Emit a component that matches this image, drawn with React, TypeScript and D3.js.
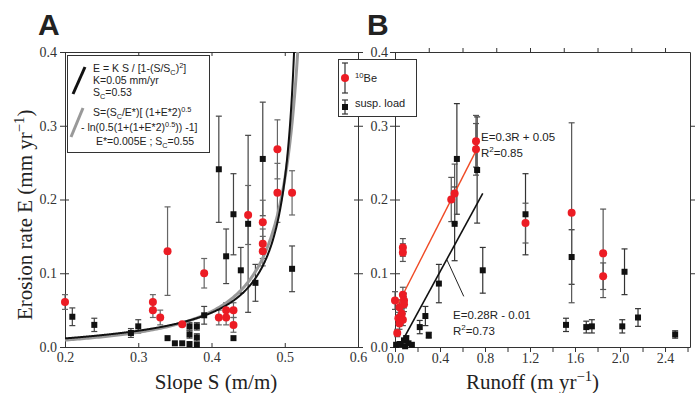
import * as d3 from "d3";
import React, { useEffect, useRef } from "react";

// panel A: 10Be (red) and suspended load (black) vs hillslope gradient
const slopeBe = [0.2, 0.32, 0.32, 0.33, 0.34, 0.36, 0.39, 0.41, 0.42, 0.42, 0.43, 0.43, 0.45, 0.47, 0.47, 0.47, 0.49, 0.49, 0.51];
const erosionBeA = [0.061, 0.061, 0.05, 0.04, 0.13, 0.031, 0.1, 0.04, 0.04, 0.05, 0.05, 0.03, 0.179, 0.169, 0.14, 0.13, 0.268, 0.209, 0.209];
const errBeA = [0.01, 0.01, 0.01, 0.01, 0.06, 0, 0.02, 0.01, 0.01, 0.01, 0.01, 0.01, 0.04, 0.03, 0.02, 0.02, 0.04, 0.04, 0.03];

const slopeSusp = [0.21, 0.24, 0.29, 0.3, 0.34, 0.35, 0.36, 0.37, 0.37, 0.37, 0.38, 0.38, 0.38, 0.39, 0.41, 0.42, 0.43, 0.43, 0.44, 0.45, 0.46, 0.47, 0.51];
const erosionSuspA = [0.041, 0.03, 0.019, 0.028, 0.012, 0.005, 0.005, 0.028, 0.017, 0.004, 0.028, 0.013, 0.003, 0.043, 0.241, 0.123, 0.18, 0.012, 0.104, 0.167, 0.087, 0.255, 0.106];
const errSuspA = [0.012, 0.009, 0.006, 0.009, 0, 0, 0, 0.005, 0.005, 0, 0.005, 0.005, 0, 0.012, 0.072, 0.037, 0.055, 0, 0.031, 0.12, 0.025, 0.077, 0.031];

// panel B: same rates vs runoff
const runoffBe = [0.0, 0.07, 0.07, 0.07, 0.08, 0.08, 0.04, 0.05, 0.03, 0.04, 0.06, 0.07, 0.02, 0.5, 0.53, 0.72, 0.72, 1.16, 1.57, 1.85, 1.85];
const erosionBeB = [0.063, 0.135, 0.128, 0.071, 0.063, 0.058, 0.054, 0.041, 0.039, 0.032, 0.045, 0.037, 0.019, 0.2, 0.208, 0.279, 0.268, 0.168, 0.182, 0.127, 0.096];
const errBeB = [0.012, 0.012, 0.012, 0.01, 0.01, 0.01, 0.01, 0.01, 0.008, 0.008, 0.008, 0.008, 0.005, 0.03, 0.04, 0.035, 0.035, 0.027, 0.122, 0.06, 0.018];

const runoffSusp = [0.01, 0.04, 0.05, 0.08, 0.1, 0.09, 0.12, 0.15, 0.22, 0.27, 0.3, 0.39, 0.53, 0.55, 0.73, 0.78, 1.16, 1.57, 1.52, 1.7, 1.75, 2.02, 2.04, 2.16, 2.49];
const erosionSuspB = [0.003, 0.004, 0.004, 0.009, 0.012, 0.001, 0.005, 0.003, 0.027, 0.042, 0.016, 0.086, 0.167, 0.255, 0.24, 0.104, 0.18, 0.122, 0.03, 0.027, 0.028, 0.028, 0.102, 0.04, 0.017];
const errSuspB = [0, 0, 0, 0, 0.003, 0, 0, 0, 0.009, 0.013, 0.004, 0.026, 0.05, 0.075, 0.072, 0.031, 0.055, 0.037, 0.009, 0.008, 0.009, 0.009, 0.031, 0.012, 0.005];

// ticks
const slopeTicks = [0.2, 0.3, 0.4, 0.5, 0.6];
const rateTicks = [0.0, 0.1, 0.2, 0.3, 0.4];
const runoffTicks = [0, 0.2, 0.4, 0.6, 0.8, 1.0, 1.2, 1.4, 1.6, 1.8, 2.0, 2.2, 2.4, 2.6];
const runoffTopTicks = [0.3, 0.6, 0.9, 1.2, 1.5, 1.8, 2.1, 2.4];

// model parameters
const K = 0.05;
const Sc1 = 0.53;
const Sc2 = 0.55;
const Estar = 200; // E* per mm/yr
// regressions
const beFit = { slope: 0.3, icpt: 0.05, from: 0.03, to: 0.73 };
const suspFit = { slope: 0.28, icpt: -0.01, from: 0.05, to: 0.78 };

const RED = "#ec1c24";
const SERIF = "'Liberation Serif', 'Times New Roman', serif";
const SANS = "'Liberation Sans', Arial, sans-serif";

type Part = [string, number];

function rich(sel: any, x: number, y: number, parts: Part[], size: number) {
  const t = sel.append("text").attr("x", x).attr("y", y).attr("font-size", size);
  let cur = 0;
  parts.forEach(([s, lvl]) => {
    const off = lvl > 0 ? -size * 0.4 : lvl < 0 ? size * 0.25 : 0;
    t.append("tspan")
      .attr("dy", off - cur)
      .attr("font-size", lvl ? size * 0.7 : size)
      .text(s);
    cur = off;
  });
  return t;
}

const App: React.FC = () => {
  const svgRef = useRef<SVGSVGElement>(null);

  useEffect(() => {
    const svg = d3.select(svgRef.current);
    svg.selectAll("*").remove();

    const xA = d3.scaleLinear().domain([0.2, 0.6]).range([65, 358]);
    const yA = d3.scaleLinear().domain([0, 0.4]).range([347, 52]);
    const xB = d3.scaleLinear().domain([0, 2.622]).range([395, 690]);
    const yB = yA;

    const fmt = d3.format(".1f");

    const styleAxis = (g: any) => {
      g.select(".domain").attr("stroke", "#333");
      g.selectAll(".tick line").attr("stroke", "#333");
      g.selectAll(".tick text")
        .attr("fill", "#333")
        .attr("font-family", SERIF)
        .attr("font-size", 14);
    };

    // ---------- panel A frame ----------
    const a = svg.append("g");
    a.append("g")
      .attr("transform", `translate(0,347)`)
      .call(d3.axisBottom(xA).tickValues(slopeTicks).tickFormat(fmt as any).tickSizeInner(-4).tickSizeOuter(0).tickPadding(5))
      .call(styleAxis);
    a.append("g")
      .attr("transform", `translate(0,52)`)
      .call(d3.axisTop(xA).tickValues(slopeTicks).tickFormat(() => "").tickSizeInner(-4).tickSizeOuter(0))
      .call(styleAxis);
    a.append("g")
      .attr("transform", `translate(65,0)`)
      .call(d3.axisLeft(yA).tickValues(rateTicks).tickFormat(fmt as any).tickSizeInner(5).tickSizeOuter(0).tickPadding(3))
      .call(styleAxis)
      .call((g: any) => g.selectAll(".tick line").attr("x1", 4));
    a.append("g")
      .attr("transform", `translate(358,0)`)
      .call(d3.axisRight(yA).tickValues(rateTicks).tickFormat(() => "").tickSizeInner(5).tickSizeOuter(0))
      .call(styleAxis)
      .call((g: any) => g.selectAll(".tick line").attr("x1", -4));

    // ---------- panel B frame ----------
    const b = svg.append("g");
    b.append("g")
      .attr("transform", `translate(0,347)`)
      .call(
        d3.axisBottom(xB).tickValues(runoffTicks)
          .tickFormat((d: any) => (Math.round(d * 10) % 4 === 0 ? fmt(d) : ""))
          .tickSizeInner(5).tickSizeOuter(0).tickPadding(1)
      )
      .call(styleAxis);
    b.append("g")
      .attr("transform", `translate(0,52)`)
      .call(d3.axisTop(xB).tickValues(runoffTopTicks).tickFormat(() => "").tickSizeInner(4).tickSizeOuter(0))
      .call(styleAxis);
    b.append("g")
      .attr("transform", `translate(395,0)`)
      .call(d3.axisLeft(yB).tickValues(rateTicks).tickFormat(fmt as any).tickSizeInner(5).tickSizeOuter(0).tickPadding(2))
      .call(styleAxis)
      .call((g: any) => g.selectAll(".tick line").attr("x1", 5));
    b.append("g")
      .attr("transform", `translate(690,0)`)
      .call(d3.axisRight(yB).tickValues([0.1, 0.2, 0.3]).tickFormat(() => "").tickSizeInner(5).tickSizeOuter(0))
      .call(styleAxis);

    // ---------- error bars ----------
    const errBars = (g: any, xs: number[], ys: number[], es: number[], x: any, y: any, color: string) => {
      xs.forEach((xv, i) => {
        const e = es[i];
        if (!e) return;
        const cx = x(xv);
        const lo = y(Math.max(0, ys[i] - e));
        const hi = y(Math.min(0.4, ys[i] + e));
        g.append("line").attr("x1", cx).attr("x2", cx).attr("y1", lo).attr("y2", hi).attr("stroke", color).attr("stroke-width", 1.2);
        [lo, hi].forEach((yy) => {
          if (yy <= 52.5) return;
          g.append("line").attr("x1", cx - 3).attr("x2", cx + 3).attr("y1", yy).attr("y2", yy).attr("stroke", color).attr("stroke-width", 1.2);
        });
      });
    };
    errBars(a, slopeSusp, erosionSuspA, errSuspA, xA, yA, "#444");
    errBars(a, slopeBe, erosionBeA, errBeA, xA, yA, "#666");
    errBars(b, runoffSusp, erosionSuspB, errSuspB, xB, yB, "#333");
    errBars(b, runoffBe, erosionBeB, errBeB, xB, yB, "#555");

    // ---------- model curves (panel A) ----------
    svg.append("clipPath").attr("id", "clipA").append("rect").attr("x", 65).attr("y", 52).attr("width", 293).attr("height", 295);
    const grayPts: [number, number][] = d3.range(0, 1.0001, 0.005).map((t) => {
      const E = 0.006 * Math.pow(0.45 / 0.006, t);
      const xs = Estar * E;
      const S = (Sc2 / xs) * (Math.sqrt(1 + xs * xs) - Math.log(0.5 * (1 + Math.sqrt(1 + xs * xs))) - 1);
      return [S, E];
    });
    const blackPts: [number, number][] = d3.range(0, 1.0001, 0.002).map((t) => {
      const S = 0.2 + t * (0.5155 - 0.2);
      return [S, (K * S) / (1 - (S / Sc1) ** 2)];
    });
    const lineA = d3.line<[number, number]>().x((d) => xA(d[0])).y((d) => yA(d[1])).curve(d3.curveLinear);
    const curves = a.append("g").attr("clip-path", "url(#clipA)");
    curves.append("path").attr("d", lineA(grayPts.filter((d) => d[0] >= 0.2)) as string).attr("fill", "none").attr("stroke", "#999").attr("stroke-width", 3);
    curves.append("path").attr("d", lineA(blackPts) as string).attr("fill", "none").attr("stroke", "#111").attr("stroke-width", 2);

    // ---------- regression lines (panel B) ----------
    const fitLine = (f: any, color: string, w: number) => {
      b.append("line")
        .attr("x1", xB(f.from)).attr("y1", yB(f.slope * f.from + f.icpt))
        .attr("x2", xB(f.to)).attr("y2", yB(f.slope * f.to + f.icpt))
        .attr("stroke", color).attr("stroke-width", w);
    };
    fitLine(suspFit, "#111", 1.6);
    fitLine(beFit, "#f04a25", 1.4);

    // ---------- markers ----------
    const squares = (g: any, xs: number[], ys: number[], x: any, y: any) => {
      xs.forEach((xv, i) => {
        g.append("rect").attr("x", x(xv) - 3).attr("y", y(ys[i]) - 3).attr("width", 6).attr("height", 6).attr("fill", "#111");
      });
    };
    const dots = (g: any, xs: number[], ys: number[], x: any, y: any) => {
      xs.forEach((xv, i) => {
        g.append("circle").attr("cx", x(xv)).attr("cy", y(ys[i])).attr("r", 4).attr("fill", RED);
      });
    };
    squares(a, slopeSusp, erosionSuspA, xA, yA);
    dots(a, slopeBe, erosionBeA, xA, yA);
    squares(b, runoffSusp, erosionSuspB, xB, yB);
    dots(b, runoffBe, erosionBeB, xB, yB);

    // ---------- regression labels ----------
    const lab = b.append("g").attr("font-family", SANS).attr("fill", "#222");
    rich(lab, 481, 141, [["E=0.3R + 0.05", 0]], 11.5);
    rich(lab, 481, 157, [["R", 0], ["2", 1], ["=0.85", 0]], 11.5);
    rich(lab, 453, 319, [["E=0.28R - 0.01", 0]], 11.5);
    rich(lab, 453, 335, [["R", 0], ["2", 1], ["=0.73", 0]], 11.5);
    const lx = 0.46;
    b.append("line")
      .attr("x1", xB(lx)).attr("y1", yB(suspFit.slope * lx + suspFit.icpt))
      .attr("x2", xB(lx) + 17).attr("y2", yB(suspFit.slope * lx + suspFit.icpt) + 37)
      .attr("stroke", "#222").attr("stroke-width", 1);

    // ---------- legend A ----------
    const lg = svg.append("g").attr("font-family", SANS).attr("fill", "#222");
    lg.append("rect").attr("x", 67.5).attr("y", 55.5).attr("width", 142).attr("height", 97).attr("fill", "#fff").attr("stroke", "#333").attr("stroke-width", 1);
    lg.append("line").attr("x1", 73).attr("y1", 94).attr("x2", 85).attr("y2", 67).attr("stroke", "#111").attr("stroke-width", 3);
    lg.append("line").attr("x1", 71).attr("y1", 137).attr("x2", 83).attr("y2", 108).attr("stroke", "#999").attr("stroke-width", 3);
    const fs = 10.5;
    rich(lg, 93, 72, [["E = K S / [1-(S/S", 0], ["C", -1], [")", 0], ["2", 1], ["]", 0]], fs);
    rich(lg, 93, 84, [["K=0.05 mm/yr", 0]], fs);
    rich(lg, 93, 96, [["S", 0], ["C", -1], ["=0.53", 0]], fs);
    rich(lg, 93, 116, [["S=(S", 0], ["C", -1], ["/E*)[ (1+E*2)", 0], ["0.5", 1]], fs);
    rich(lg, 81, 131, [["- ln(0.5(1+(1+E*2)", 0], ["0.5", 1], [")) -1]", 0]], fs);
    rich(lg, 96, 145, [["E*=0.005E ; S", 0], ["C", -1], ["=0.55", 0]], fs);

    // ---------- legend B ----------
    const lb = svg.append("g").attr("font-family", SANS).attr("fill", "#222");
    lb.append("rect").attr("x", 338.5).attr("y", 59.5).attr("width", 78).attr("height", 57).attr("fill", "#fff").attr("stroke", "#333").attr("stroke-width", 1);
    const legErr = (cx: number, y1: number, y2: number) => {
      lb.append("line").attr("x1", cx).attr("x2", cx).attr("y1", y1).attr("y2", y2).attr("stroke", "#333").attr("stroke-width", 1.2);
      [y1, y2].forEach((yy) => lb.append("line").attr("x1", cx - 3).attr("x2", cx + 3).attr("y1", yy).attr("y2", yy).attr("stroke", "#333").attr("stroke-width", 1.2));
    };
    legErr(345, 63, 93);
    legErr(345, 100, 114);
    lb.append("circle").attr("cx", 345).attr("cy", 78).attr("r", 4).attr("fill", RED);
    lb.append("rect").attr("x", 342).attr("y", 104).attr("width", 6).attr("height", 6).attr("fill", "#111");
    rich(lb, 355, 82, [["10", 1], ["Be", 0]], 11);
    rich(lb, 355, 107, [["susp. load", 0]], 11);

    // ---------- titles ----------
    const t = svg.append("g").attr("fill", "#222");
    t.append("text").attr("x", 38).attr("y", 35).attr("font-family", SANS).attr("font-weight", "bold").attr("font-size", 30).text("A");
    t.append("text").attr("x", 367).attr("y", 35).attr("font-family", SANS).attr("font-weight", "bold").attr("font-size", 30).text("B");
    const tx = t.append("g").attr("font-family", SERIF);
    tx.append("text").attr("x", 216).attr("y", 389).attr("text-anchor", "middle").attr("font-size", 21).text("Slope S (m/m)");
    rich(tx, 466, 389, [["Runoff (m yr", 0], ["\u22121", 1], [")", 0]], 21);
    const ylab = tx.append("g").attr("transform", "translate(32,320) rotate(-90)");
    rich(ylab, 0, 0, [["Erosion rate E  (mm yr", 0], ["\u22121", 1], [")", 0]], 21);
  }, []);

  return (
    <svg
      ref={svgRef}
      width={697}
      height={393}
      style={{ position: "absolute", left: 0, top: 0, background: "#fff" }}
    />
  );
};

export default App;
